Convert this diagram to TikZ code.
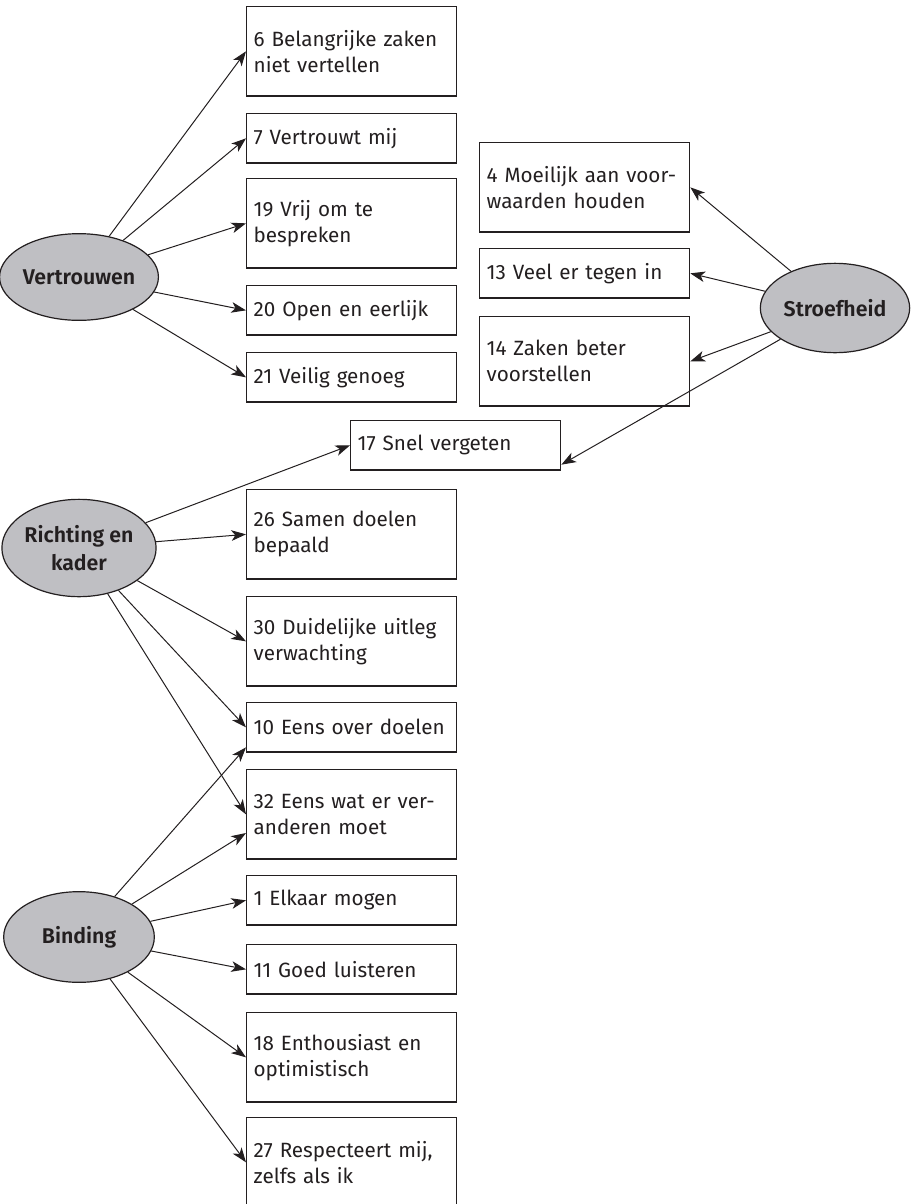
\documentclass[tikz,border=0pt]{standalone}
\usepackage{fontspec}
\setmainfont{Fira Sans}[BoldFont={Fira Sans SemiBold}]
\usetikzlibrary{shapes.geometric,arrows.meta}
\definecolor{ink}{RGB}{35,31,32}
\definecolor{factgray}{RGB}{191,191,195}
\newcommand{\itemfont}{\fontsize{15.5}{19.5}\selectfont\hyphenpenalty=10000\relax}

\begin{document}
\begin{tikzpicture}[x=0.75pt,y=-0.75pt,
  item/.style={draw=ink,line width=1pt,text=ink,anchor=north west,align=left,
    text width=147pt,inner xsep=5.25pt,minimum width=157.5pt,minimum height=37pt,
    font=\itemfont},
  tall/.style={item,minimum height=67pt},
  factor/.style={ellipse,draw=ink,line width=0.9pt,fill=factgray,text=ink,inner sep=0pt,
    align=center,font=\fontsize{16}{20.5}\selectfont\bfseries},
  load/.style={-{Stealth[length=11pt,width=8pt,inset=3pt]},line width=0.75pt,draw=ink}]
\useasboundingbox (0,0) rectangle (912,1204);
% factors
\node[factor,minimum width=113pt,minimum height=65pt] (vert) at (79,277) {Vertrouwen};
\node[factor,minimum width=112pt,minimum height=67pt] (stroef) at (835,308) {Stroefheid};
\node[factor,minimum width=113pt,minimum height=73pt] (richt) at (79,548) {Richting en\\kader};
\node[factor,minimum width=113pt,minimum height=68pt] (bind) at (79,937) {Binding};
% items
\node[tall] (b6) at (246,6) {6 Belangrijke zaken\\niet vertellen};
\node[item] (b7) at (246,113) {7 Vertrouwt mij};
\node[tall] (b19) at (246,178) {19 Vrij om te\\bespreken};
\node[item] (b20) at (246,285) {20 Open en eerlijk};
\node[item] (b21) at (246,352) {21 Veilig genoeg};
\node[tall] (b4) at (479,142) {4 Moeilijk aan voor-\\waarden houden};
\node[item] (b13) at (479,248) {13 Veel er tegen in};
\node[tall] (b14) at (479,316) {14 Zaken beter\\voorstellen};
\node[item] (b17) at (350,420) {17 Snel vergeten};
\node[tall] (b26) at (246,489) {26 Samen doelen\\bepaald};
\node[tall] (b30) at (246,596) {30 Duidelijke uitleg\\verwachting};
\node[item] (b10) at (246,702) {10 Eens over doelen};
\node[tall] (b32) at (246,769) {32 Eens wat er ver-\\anderen moet};
\node[item] (b1) at (246,875) {1 Elkaar mogen};
\node[item] (b11) at (246,944) {11 Goed luisteren};
\node[tall] (b18) at (246,1012) {18 Enthousiast en\\optimistisch};
\node[tall] (b27) at (246,1117) {27 Respecteert mij,\\zelfs als ik};
\coordinate (b10low) at ([yshift=-15pt]b10.west);
\coordinate (b32low) at ([yshift=-14pt]b32.west);
\coordinate (b17low) at ([yshift=4.5pt]b17.south east);
% loadings
\foreach \b in {b6,b7,b19,b20,b21} \draw[load] (vert) -- (\b.west);
\foreach \b in {b4,b13,b14} \draw[load] (stroef) -- (\b.east);
\draw[load] (stroef) -- (b17low);
\foreach \b in {b17,b26,b30,b10,b32} \draw[load] (richt) -- (\b.west);
\foreach \b in {b1,b11,b18,b27} \draw[load] (bind) -- (\b.west);
\draw[load] (bind) -- (b10low);
\draw[load] (bind) -- (b32low);
\end{tikzpicture}
\end{document}
